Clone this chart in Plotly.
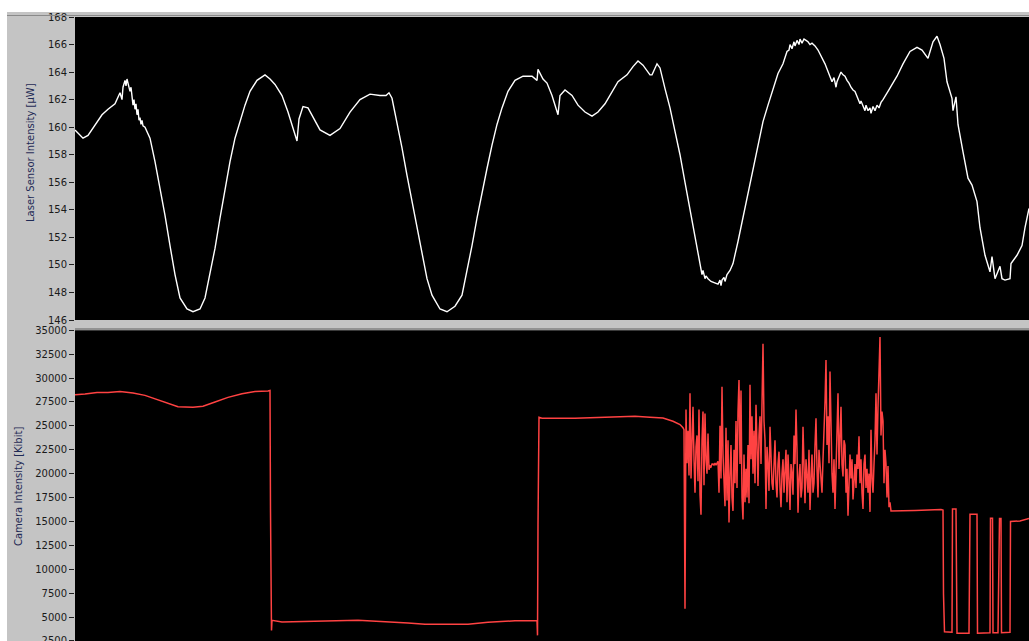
import plotly.graph_objects as go

# ---------------- data (sample index vs. value) ----------------
laser_t = [0, 8, 13, 20, 27, 33, 40, 45, 47, 48, 50, 51, 52, 53, 55, 56, 57, 58, 59, 60,
           61, 62, 63, 64, 65, 66, 67, 68, 70, 75, 80, 85, 90, 95, 100, 105, 112, 118, 125,
           130, 135, 140, 145, 150, 155, 160, 165, 170, 175, 182, 190, 195, 200, 207, 213,
           218, 222, 224, 228, 233, 240, 245, 255, 265, 275, 285, 295, 305, 311, 314, 317,
           322, 327, 332, 337, 342, 347, 352, 357, 365, 372, 380, 387, 392, 397, 402, 407,
           412, 417, 422, 427, 433, 440, 448, 457, 462, 463, 468, 472, 477, 483, 485, 490,
           497, 503, 510, 517, 523, 530, 537, 543, 552, 558, 563, 568, 575, 577, 582, 585,
           590, 595, 600, 605, 610, 615, 620, 625, 627, 628, 630, 631, 633, 636, 640, 643,
           645, 646, 647, 649, 650, 652, 655, 658, 663, 670, 677, 683, 688, 693, 698, 703,
           708, 712, 714, 715, 717, 719, 720, 722, 724, 725, 727, 729, 731, 733, 735, 737,
           740, 743, 750, 755, 757, 759, 761, 762, 764, 766, 768, 770, 772, 774, 776, 778,
           780, 783, 785, 786, 788, 790, 791, 793, 795, 796, 798, 800, 802, 804, 806, 808,
           813, 822, 828, 835, 842, 847, 853, 858, 862, 865, 869, 872, 877, 878, 881, 883,
           888, 893, 897, 902, 905, 910, 915, 917, 920, 925, 927, 930, 935, 936, 942, 947,
           950, 954]
laser_uW = [159.8, 159.2, 159.4, 160.2, 160.9, 161.3, 161.7, 162.5, 162.0, 162.9, 163.4,
            163.0, 163.5, 163.2, 162.6, 162.9, 162.2, 161.6, 162.0, 161.3, 161.7, 160.9,
            161.3, 160.5, 160.7, 160.2, 160.5, 160.1, 160.0, 159.2, 157.5, 155.6, 153.6,
            151.4, 149.3, 147.6, 146.8, 146.6, 146.8, 147.6, 149.3, 151.2, 153.4, 155.6,
            157.5, 159.2, 160.5, 161.6, 162.6, 163.4, 163.8, 163.5, 163.1, 162.3, 161.1,
            160.0, 159.0, 160.6, 161.5, 161.4, 160.5, 159.8, 159.4, 159.9, 161.1, 162.0,
            162.4, 162.3, 162.3, 162.5, 162.1, 160.4, 158.5, 156.5, 154.6, 152.7, 150.7,
            149.0, 147.8, 146.8, 146.6, 147.0, 147.8, 149.5, 151.4, 153.4, 155.3, 157.0,
            158.7, 160.2, 161.4, 162.6, 163.4, 163.7, 163.7, 163.4, 164.2, 163.5, 163.2,
            162.3, 160.9, 162.3, 162.7, 162.3, 161.6, 161.1, 160.8, 161.1, 161.7, 162.6,
            163.3, 163.8, 164.4, 164.8, 164.5, 163.8, 163.8, 164.6, 164.3, 162.8, 161.4,
            159.7, 158.0, 156.0, 154.1, 152.2, 150.2, 149.3, 149.6, 149.0, 149.2, 149.0,
            148.8, 148.7, 148.6, 148.9, 148.5, 148.9, 149.1, 148.8, 149.3, 149.6, 150.1,
            151.7, 154.1, 156.5, 158.7, 160.4, 161.6, 162.8, 163.9, 164.6, 165.5, 165.6,
            166.0, 165.7, 166.2, 165.9, 166.3, 166.0, 166.4, 166.1, 166.4, 166.3, 166.2,
            166.0, 166.1, 165.9, 165.6, 164.6, 163.7, 163.3, 163.6, 162.9, 163.3, 163.6,
            164.0, 163.8, 163.7, 163.4, 163.2, 162.9, 162.7, 162.6, 162.1, 161.7, 161.9,
            161.5, 161.2, 161.6, 161.2, 161.4, 161.0, 161.5, 161.2, 161.6, 161.4, 161.8,
            162.0, 162.6, 163.7, 164.6, 165.5, 165.8, 165.6, 165.0, 166.2, 166.6, 166.0,
            165.0, 163.3, 162.1, 161.2, 162.2, 160.2, 158.2, 156.3, 155.8, 154.6, 152.7,
            150.7, 149.5, 150.6, 149.0, 149.9, 149.0, 148.9, 149.0, 150.1, 150.7, 151.4,
            152.7, 154.1]

# camera: steady parts
camera_t_a = [0, 10, 22, 33, 45, 58, 70, 82, 93, 103, 118, 128, 140, 153, 167, 180, 193,
              195, 195.5, 196, 196.5, 197, 207, 283, 310, 333, 350, 393, 413, 440, 462,
              462.5, 463, 464, 467, 500, 530, 560, 575, 588, 598, 605, 608]
camera_a = [28260, 28330, 28500, 28500, 28600, 28440, 28190, 27740, 27320, 27010,
            26940, 27050, 27500, 27980, 28360, 28600, 28650, 28700, 16000, 4600, 3600,
            4650, 4480, 4650, 4540, 4370, 4230, 4230, 4440, 4610, 4610, 3080, 14700,
            25900, 25800, 25800, 25900, 26000, 25900, 25830, 25480, 25140, 24800]
# camera: turbulent part, one sample per index 609..816
camera_t_b = list(range(609, 817))
camera_b = [24600, 5860, 26700, 21100, 24500, 19800, 28400, 19500, 23800, 27000,
            21500, 18000, 22800, 24000, 19200, 26700, 17800, 15700, 23500, 26500,
            18800, 26300, 21500, 20000, 24200, 20400, 20800, 20700, 21000, 21000,
            20900, 21100, 20900, 21200, 21300, 18000, 25000, 19500, 29100, 22000,
            19000, 16600, 24800, 17200, 23500, 14900, 19800, 23000, 17500, 16100,
            22500, 19000, 25500, 18500, 26500, 29800, 21000, 28700, 17500, 15200,
            22000, 17000, 20500, 17500, 23000, 16900, 29300, 21500, 26000, 20000,
            24500, 19000, 27200, 22000, 18700, 24000, 26000, 21000, 29000, 33600,
            25500, 23500, 16300, 22800, 21000, 18200, 24900, 20500, 19000, 18300,
            21800, 23500, 19000, 17500, 21000, 22300, 18500, 16500, 20000, 21500,
            18000, 20800, 22500, 17000, 22000, 19500, 16200, 21000, 20000, 17800,
            24000, 21000, 26700, 22500, 15900, 19500, 21000, 17500, 18500, 24900,
            20000, 16900, 21500, 19000, 18000, 22500, 16200, 19500, 22000, 18000,
            19000, 23000, 25800, 20500, 17500, 22500, 21000, 19500, 18000, 21500,
            24000, 27500, 31900, 23000, 26000, 21100, 30700, 24500, 20000, 18000,
            21500, 16300, 20500, 22000, 28400, 20500, 24500, 27000, 21000, 19700,
            23500, 23000, 18000, 20500, 15600, 19500, 22000, 19500, 21500, 17300,
            20000, 21000, 18500, 22000, 20500, 23900, 19000, 21500, 18000, 16300,
            21000, 22000, 18500, 20500, 18000, 20000, 16000, 24600, 19500, 18000,
            21000, 23500, 28400, 22000, 27000, 30500, 34300, 24000, 26500, 25500,
            19000, 22500, 21000, 17500, 20800, 16500, 17000, 16100]
# camera: after turbulence, with dropouts
camera_t_c = [817, 840, 866, 868, 868.5, 869.5, 877, 877.5, 881, 881.5, 882, 894, 895,
              902, 902.5, 915, 915.5, 917.5, 918, 923, 923.5, 924.5, 926, 926.5, 935,
              935.5, 945, 954]
camera_c = [16100, 16150, 16250, 16200, 7400, 3450, 3400, 16300, 16300, 9000, 3300, 3300,
            15760, 15760, 3300, 3350, 15340, 15340, 3350, 3350, 9330, 15300, 15300, 3350,
            3400, 15000, 15050, 15300]

camera_t = camera_t_a + camera_t_b + camera_t_c
camera_kibit = camera_a + camera_b + camera_c

laser_ticks = list(range(146, 169, 2))
camera_ticks = list(range(2500, 35001, 2500))

# ---------------- figure ----------------
W, H = 1029, 641
GREY = "#c4c4c4"
FONT = "DejaVu Sans"
TITLE_COLOR = "#1f2a55"

fig = go.Figure()
fig.add_trace(go.Scatter(x=laser_t, y=laser_uW, mode="lines",
                         line=dict(color="#ffffff", width=1.4),
                         xaxis="x", yaxis="y", showlegend=False, hoverinfo="skip"))
fig.add_trace(go.Scatter(x=camera_t, y=camera_kibit, mode="lines",
                         line=dict(color="#ff4242", width=1.5),
                         xaxis="x2", yaxis="y2", showlegend=False, hoverinfo="skip"))

x0 = 75 / W
top_dom = [(H - 320) / H, (H - 17) / H]
bot_dom = [0, (H - 330.3) / H]

axis_common = dict(ticks="outside", ticklen=5, tickwidth=1, tickcolor="#202020",
                   showgrid=False, zeroline=False, showline=False, tickformat="d",
                   ticklabeloverflow="allow", automargin=False,
                   tickfont=dict(family=FONT, size=10, color="#1a1a1a"))

fig.update_layout(
    width=W, height=H,
    margin=dict(l=0, r=0, t=0, b=0),
    paper_bgcolor=GREY, plot_bgcolor="#000000",
    xaxis=dict(domain=[x0, 1], range=[0, 954], visible=False, anchor="y",
               automargin=False),
    xaxis2=dict(domain=[x0, 1], range=[0, 954], visible=False, anchor="y2",
                automargin=False),
    yaxis=dict(domain=top_dom, range=[146, 168], tickvals=laser_ticks, anchor="x",
               **axis_common),
    yaxis2=dict(domain=bot_dom, range=[2490, 35000], tickvals=camera_ticks, anchor="x2",
                **axis_common),
    shapes=[
        dict(type="rect", xref="paper", yref="paper", x0=0, x1=1,
             y0=(H - 12) / H, y1=1, fillcolor="#ffffff", line=dict(width=0), layer="below"),
        dict(type="rect", xref="paper", yref="paper", x0=0, x1=7 / W,
             y0=0, y1=1, fillcolor="#ffffff", line=dict(width=0), layer="below"),
        dict(type="line", xref="paper", yref="paper", x0=x0, x1=1,
             y0=(H - 329) / H, y1=(H - 329) / H, line=dict(color="#606060", width=1)),
        dict(type="line", xref="paper", yref="paper", x0=7 / W, x1=1,
             y0=(H - 15.5) / H, y1=(H - 15.5) / H, line=dict(color="#8a8a8a", width=1)),
    ],
    annotations=[
        dict(text="Laser Sensor Intensity [µW]", textangle=-90, xref="paper", yref="paper",
             x=30 / W, y=(H - 153) / H, showarrow=False, xanchor="center", yanchor="middle",
             font=dict(family=FONT, size=10, color=TITLE_COLOR)),
        dict(text="Camera Intensity [Kibit]", textangle=-90, xref="paper", yref="paper",
             x=18 / W, y=(H - 487) / H, showarrow=False, xanchor="center", yanchor="middle",
             font=dict(family=FONT, size=10, color=TITLE_COLOR)),
    ],
)

fig.write_html("out.html",
               config={"displayModeBar": False},
               post_script="document.body.style.margin='0';"
                           "document.body.style.overflow='hidden';")
